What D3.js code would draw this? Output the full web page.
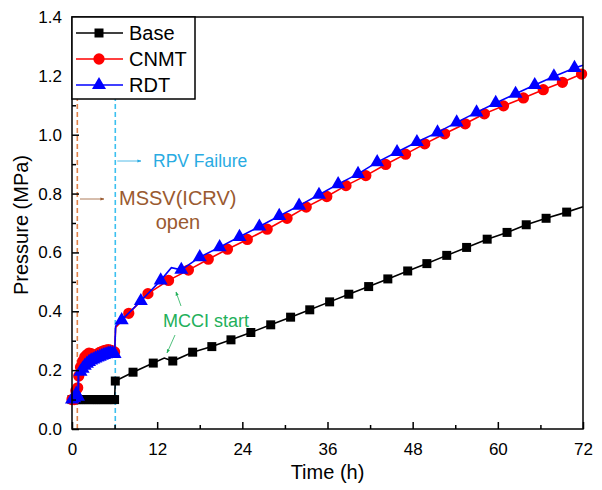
<!DOCTYPE html>
<html>
<head>
<meta charset="utf-8">
<script src="https://cdn.jsdelivr.net/npm/d3@7"></script>
<style>
  body { margin: 0; background: #fff; }
  svg { font-family: "Liberation Sans", Arial, sans-serif; }
</style>
</head>
<body>
<svg width="602" height="490"></svg>
<script>
// series data: [time (h), pressure (MPa)]
var base = [
  [0,0.1],[0.3,0.1],[0.6,0.1],[0.9,0.1],[1.2,0.1],[1.5,0.1],[1.8,0.1],[2.1,0.1],[2.4,0.1],[2.7,0.1],
  [3.0,0.1],[3.3,0.1],[3.6,0.1],[3.9,0.1],[4.2,0.1],[4.5,0.1],[4.8,0.1],[5.1,0.1],[5.4,0.1],[5.7,0.1],[6.0,0.1],
  [6.1,0.163],[8.6,0.193],[11.45,0.224],[14.2,0.231],[17,0.261],[19.7,0.28],[22.4,0.303],[25.2,0.328],
  [28,0.354],[30.8,0.380],[33.5,0.405],[36.3,0.432],[39,0.458],[41.8,0.484],[44.5,0.510],[47.3,0.537],
  [50,0.562],[52.8,0.590],[55.6,0.617],[58.5,0.645],[61.3,0.668],[64,0.694],[66.8,0.716],[69.7,0.737]
];
var baseExtra = [[13.0,0.241],[72,0.755]];   // line-only points (no marker)

var cnmt = [
  [0,0.1],[0.3,0.1],[0.55,0.13],[0.8,0.14],[0.95,0.18],[1.2,0.21],[1.5,0.23],[1.8,0.245],[2.1,0.252],
  [2.4,0.258],[2.7,0.256],[3.0,0.252],[3.3,0.25],[3.6,0.255],[3.9,0.26],[4.2,0.263],[4.5,0.266],
  [4.8,0.268],[5.1,0.27],[5.4,0.268],[5.7,0.265],[6.0,0.262],
  [8.0,0.393],[10.7,0.46],[13.6,0.505],[16.4,0.54],[19.2,0.577],[21.9,0.611],[24.7,0.644],[27.5,0.679],
  [30.3,0.716],[33,0.754],[35.9,0.79],[38.6,0.827],[41.4,0.861],[44.2,0.899],[47,0.934],[49.7,0.969],
  [52.5,1.003],[55.4,1.037],[58.1,1.071],[60.8,1.098],[63.6,1.125],[66.4,1.153],[69.1,1.178],[71.8,1.206]
];
var cnmtExtra = [[6.15,0.345]];

var rdt = [
  [0,0.1],[0.3,0.105],[0.6,0.12],[0.85,0.11],
  [1.2,0.195],[1.5,0.205],[1.8,0.215],[2.1,0.222],[2.4,0.228],[2.7,0.233],[3.0,0.236],[3.3,0.24],
  [3.6,0.243],[3.9,0.246],[4.2,0.249],[4.5,0.252],[4.8,0.254],[5.1,0.256],[5.4,0.258],[5.7,0.257],[6.0,0.255],
  [7.0,0.37],[9.7,0.435],[12.5,0.505],[15.4,0.541],[18.0,0.584],[20.8,0.618],[23.6,0.653],[26.4,0.688],
  [29.2,0.724],[32,0.759],[34.8,0.796],[37.5,0.832],[40.3,0.867],[43,0.907],[45.8,0.941],[48.6,0.975],
  [51.5,1.008],[54.2,1.042],[57,1.076],[59.7,1.108],[62.5,1.139],[65.2,1.169],[67.9,1.198],[70.8,1.227]
];
var rdtExtra = [[0.88,0.2],[0.9,0.095],[0.95,0.19],[6.15,0.35],[14.0,0.548],[72,1.236]];

var seriesNames = ["Base", "CNMT", "RDT"];
var xTicks = [0, 12, 24, 36, 48, 60, 72];
var yTicks = [0.0, 0.2, 0.4, 0.6, 0.8, 1.0, 1.2, 1.4];
var eventTimes = [0.75, 6.1];   // MSSV open, RPV failure

var svg = d3.select("svg");
var pl = 72, pr = 583, pt = 17, pb = 429;

var x = d3.scaleLinear().domain([0, 72]).range([pl, pr]);
var y = d3.scaleLinear().domain([0, 1.4]).range([pb, pt]);

// event lines
var evColors = ["#e0824a", "#3cc0f0"];
svg.selectAll(".ev")
  .data(eventTimes)
  .enter().append("line")
    .attr("x1", function(d) { return x(d); })
    .attr("x2", function(d) { return x(d); })
    .attr("y1", pb)
    .attr("y2", pt)
    .attr("stroke", function(d, i) { return evColors[i]; })
    .attr("stroke-width", 1.6)
    .attr("stroke-dasharray", "5,3");

var line = d3.line()
    .x(function(d) { return x(d[0]); })
    .y(function(d) { return y(d[1]); });

function sortT(a) { return a.slice().sort(function(p, q) { return p[0] - q[0]; }); }

var series = [
  { name: seriesNames[0], pts: base, extra: baseExtra, color: "#000000", sym: d3.symbolSquare, size: 81 },
  { name: seriesNames[1], pts: cnmt, extra: cnmtExtra, color: "#ff0000", sym: d3.symbolCircle, size: 100 },
  { name: seriesNames[2], pts: rdt, extra: rdtExtra, color: "#0000ff", sym: d3.symbolTriangle, size: 85 }
];

series.forEach(function(s) {
  var g = svg.append("g").attr("class", "series");
  g.append("path")
    .datum(sortT(s.pts.concat(s.extra)))
    .attr("fill", "none")
    .attr("stroke", s.color)
    .attr("stroke-width", 1.6)
    .attr("d", line);
  g.selectAll("path.mk")
    .data(s.pts)
    .enter().append("path")
      .attr("class", "mk")
      .attr("transform", function(d) { return "translate(" + x(d[0]) + "," + y(d[1]) + ")"; })
      .attr("d", d3.symbol().type(s.sym).size(s.size))
      .attr("fill", s.color);
});

// frame
svg.append("rect")
    .attr("x", pl).attr("y", pt)
    .attr("width", pr - pl).attr("height", pb - pt)
    .attr("fill", "none").attr("stroke", "#000").attr("stroke-width", 1.5);

// axes with inward ticks
var xAxis = svg.append("g")
    .attr("transform", "translate(0," + pb + ")")
    .call(d3.axisBottom(x).tickValues(xTicks).tickSizeInner(-7).tickSizeOuter(0).tickPadding(14));
xAxis.select(".domain").remove();
xAxis.selectAll("line").attr("stroke-width", 1.5);
xAxis.selectAll("text").attr("font-size", 17).attr("fill", "#000").attr("font-family", "Liberation Sans, Arial");

svg.append("g")
    .attr("transform", "translate(0," + pb + ")")
    .call(d3.axisBottom(x).tickValues(d3.range(6, 72, 12)).tickSize(-4).tickFormat(""))
  .call(function(g) { g.select(".domain").remove(); g.selectAll("line").attr("stroke-width", 1.5); });

var yAxis = svg.append("g")
    .attr("transform", "translate(" + pl + ",0)")
    .call(d3.axisLeft(y).tickValues(yTicks).tickSizeInner(-7).tickSizeOuter(0).tickPadding(10).tickFormat(d3.format(".1f")));
yAxis.select(".domain").remove();
yAxis.selectAll("line").attr("stroke-width", 1.5);
yAxis.selectAll("text").attr("font-size", 17).attr("fill", "#000").attr("font-family", "Liberation Sans, Arial");

svg.append("g")
    .attr("transform", "translate(" + pl + ",0)")
    .call(d3.axisLeft(y).tickValues(d3.range(0.1, 1.4, 0.2)).tickSize(-4).tickFormat(""))
  .call(function(g) { g.select(".domain").remove(); g.selectAll("line").attr("stroke-width", 1.5); });

// axis titles
svg.append("text")
    .attr("x", (pl + pr) / 2).attr("y", 479)
    .attr("text-anchor", "middle").attr("font-size", 20)
    .text("Time (h)");
svg.append("text")
    .attr("transform", "translate(28," + ((pt + pb) / 2 + 2) + ") rotate(-90)")
    .attr("text-anchor", "middle").attr("font-size", 20)
    .text("Pressure (MPa)");

// legend
var lg = svg.append("g");
lg.append("rect")
    .attr("x", pl).attr("y", pt)
    .attr("width", 123).attr("height", 82)
    .attr("fill", "#fff").attr("stroke", "#000").attr("stroke-width", 1.5);
series.forEach(function(s, i) {
  var ly = 33 + i * 26;
  lg.append("line").attr("x1", 76).attr("x2", 123).attr("y1", ly).attr("y2", ly)
    .attr("stroke", s.color).attr("stroke-width", 1.6);
  lg.append("path").attr("transform", "translate(99," + ly + ")")
    .attr("d", d3.symbol().type(s.sym).size(s.size)).attr("fill", s.color);
  lg.append("text").attr("x", 129).attr("y", ly + 7).attr("font-size", 20).text(s.name);
});

// annotations
svg.append("defs").selectAll("marker")
  .data([["blueHead", "#29abe2"], ["brownHead", "#9a5a30"], ["greenHead", "#22b05a"]])
  .enter().append("marker")
    .attr("id", function(d) { return d[0]; })
    .attr("viewBox", "0 0 10 10").attr("refX", 9).attr("refY", 5)
    .attr("markerWidth", 5).attr("markerHeight", 5).attr("orient", "auto")
  .append("path").attr("d", "M0,1L10,5L0,9Z").attr("fill", function(d) { return d[1]; });

function arrow(x1, y1, x2, y2, col, id) {
  svg.append("line").attr("x1", x1).attr("y1", y1).attr("x2", x2).attr("y2", y2)
    .attr("stroke", col).attr("stroke-width", 0.8).attr("marker-end", "url(#" + id + ")");
}
arrow(x(6.1) + 2, 161, 141, 161, "#29abe2", "blueHead");
arrow(80, 199, 104, 199, "#9a5a30", "brownHead");
arrow(181, 306, 176, 292, "#22b05a", "greenHead");
arrow(175, 335, 167, 353, "#22b05a", "greenHead");

svg.append("text").attr("x", 153).attr("y", 167).attr("font-size", 17.5).attr("fill", "#29abe2").text("RPV Failure");
svg.append("text").attr("x", 119).attr("y", 205).attr("font-size", 20).attr("fill", "#9a5a30").text("MSSV(ICRV)");
svg.append("text").attr("x", 178).attr("y", 229).attr("font-size", 20).attr("fill", "#9a5a30").attr("text-anchor", "middle").text("open");
svg.append("text").attr("x", 163).attr("y", 327).attr("font-size", 18).attr("fill", "#22b05a").text("MCCI start");
</script>
</body>
</html>
